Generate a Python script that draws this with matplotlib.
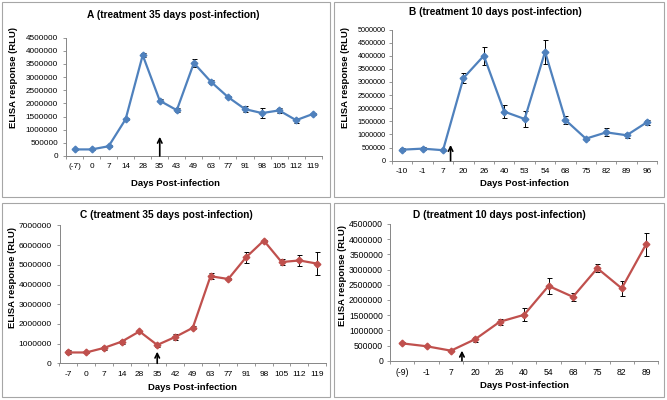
import matplotlib
matplotlib.use("Agg")
import matplotlib.pyplot as plt
from matplotlib.patches import Rectangle
import numpy as np

plt.rcParams['font.family'] = ['Liberation Sans', 'DejaVu Sans']

# ---------------- data ----------------
a_days = ["(-7)", "0", "7", "14", "28", "35", "43", "49", "63", "77", "91", "98", "105", "112", "119"]
a_vals = [250000, 250000, 370000, 1400000, 3830000, 2100000, 1740000, 3530000, 2820000, 2240000, 1780000, 1630000, 1730000, 1360000, 1600000]
a_err = [30000, 30000, 40000, 40000, 80000, 50000, 70000, 150000, 80000, 50000, 100000, 200000, 100000, 100000, 40000]

b_days = ["-10", "-1", "7", "20", "26", "40", "53", "54", "68", "75", "82", "89", "96"]
b_vals = [420000, 460000, 400000, 3150000, 4000000, 1870000, 1590000, 4150000, 1550000, 840000, 1080000, 970000, 1470000]
b_err = [60000, 50000, 20000, 180000, 350000, 250000, 300000, 450000, 150000, 50000, 150000, 100000, 100000]

c_days = ["-7", "0", "7", "14", "28", "35", "42", "49", "63", "77", "91", "98", "105", "112", "119"]
c_vals = [550000, 550000, 780000, 1100000, 1620000, 930000, 1330000, 1800000, 4420000, 4280000, 5380000, 6230000, 5140000, 5220000, 5060000]
c_err = [100000, 50000, 80000, 100000, 40000, 80000, 150000, 80000, 150000, 40000, 270000, 50000, 130000, 300000, 580000]

d_days = ["(-9)", "-1", "7", "20", "26", "40", "54", "68", "75", "82", "89"]
d_vals = [570000, 475000, 330000, 710000, 1280000, 1510000, 2460000, 2100000, 3040000, 2380000, 3830000]
d_err = [30000, 20000, 20000, 80000, 100000, 220000, 250000, 130000, 130000, 250000, 370000]

titles = ["A (treatment 35 days post-infection)", "B (treatment 10 days post-infection)",
          "C (treatment 35 days post-infection)", "D (treatment 10 days post-infection)"]
y_maxes = [4500000, 5000000, 7000000, 4500000]
y_steps = [500000, 500000, 1000000, 500000]
arrow_x = [5, 2.37, 5, 2.45]
arrow_tip = [730000, 600000, 590000, 330000]

BLUE = "#4F81BD"
RED = "#C0504D"
GRAY = "#868686"

W, H = 667, 400
fig = plt.figure(figsize=(W / 100, H / 100), dpi=100)
fig.patch.set_facecolor("white")

def px_rect(x0, x1, ytop, ybot):
    return [x0 / W, 1 - ybot / H, (x1 - x0) / W, (ybot - ytop) / H]

# panel frames (pixel coordinates)
frames = [(2, 330, 2, 197), (334, 664, 2, 197), (2, 330, 203, 397), (334, 664, 203, 397)]
for (x0, x1, y0, y1) in frames:
    fig.patches.append(Rectangle((x0 / W, 1 - y1 / H), (x1 - x0) / W, (y1 - y0) / H,
                                 transform=fig.transFigure, fill=False,
                                 edgecolor="#a6a6a6", lw=0.8))

axes_px = [(66, 321.7, 37.5, 156.0), (392, 657.3, 29.5, 160.7),
           (59.5, 326.0, 225.4, 363.3), (390, 658.3, 223.9, 360.7)]
title_px = [(173, 15), (495, 12), (166, 215), (499, 215)]
xlabel_px = [(175.5, 184), (525, 183), (193, 387), (525, 385)]
ylabel_px = [(14, 78), (345.5, 78), (12.5, 277), (343, 275)]
ytick_fs = [5.9, 5.2, 6.0, 6.2]
xtick_fs = [5.9, 6.0, 6.0, 6.2]
ytick_pad = [3.3, 2.0, 3.0, 2.5]

datasets = [(a_days, a_vals, a_err, BLUE), (b_days, b_vals, b_err, BLUE),
            (c_days, c_vals, c_err, RED), (d_days, d_vals, d_err, RED)]

for i, (days, vals, err, col) in enumerate(datasets):
    x0, x1, yt, yb = axes_px[i]
    ax = fig.add_axes(px_rect(x0, x1, yt, yb))
    n = len(days)
    xs = np.arange(n)
    ax.errorbar(xs, vals, yerr=err, fmt='none', ecolor='black', elinewidth=0.7,
                capsize=1.8, capthick=0.7, zorder=2)
    ax.plot(xs, vals, color=col, lw=1.6, marker='D', ms=3.4, mfc=col, mec=col, zorder=3)
    ax.set_xlim(-0.5, n - 0.5)
    ax.set_ylim(0, y_maxes[i])
    yt_vals = np.arange(0, y_maxes[i] + 1, y_steps[i])
    ax.set_yticks(yt_vals)
    ax.set_yticklabels([str(int(v)) for v in yt_vals])
    ax.set_xticks(xs)
    ax.set_xticklabels(days)
    ax.set_xticks(np.arange(n + 1) - 0.5, minor=True)
    ax.tick_params(axis='x', which='major', length=0, pad=5.2, labelsize=xtick_fs[i])
    ax.tick_params(axis='x', which='minor', length=2.5, width=0.6, color=GRAY, direction='out')
    ax.tick_params(axis='y', which='major', length=2.5, width=0.6, color=GRAY,
                   pad=ytick_pad[i], labelsize=ytick_fs[i])
    for s in ['top', 'right']:
        ax.spines[s].set_visible(False)
    for s in ['left', 'bottom']:
        ax.spines[s].set_color(GRAY)
        ax.spines[s].set_linewidth(0.7)
    ax.annotate("", xy=(arrow_x[i], arrow_tip[i]), xytext=(arrow_x[i], 0),
                arrowprops=dict(arrowstyle='->', color='black', lw=1.2,
                                shrinkA=0, shrinkB=0, mutation_scale=8),
                annotation_clip=False, zorder=4)

    tx, ty = title_px[i]
    fig.text(tx / W, 1 - ty / H, titles[i], ha='center', va='center',
             fontsize=7.3, fontweight='bold')
    lx, ly = xlabel_px[i]
    fig.text(lx / W, 1 - ly / H, "Days Post-infection", ha='center', va='center',
             fontsize=6.8, fontweight='bold')
    yx, yy = ylabel_px[i]
    fig.text(yx / W, 1 - yy / H, "ELISA response (RLU)", ha='center', va='center',
             rotation=90, fontsize=6.8, fontweight='bold')

fig.savefig("out.png", dpi=100, facecolor="white")
